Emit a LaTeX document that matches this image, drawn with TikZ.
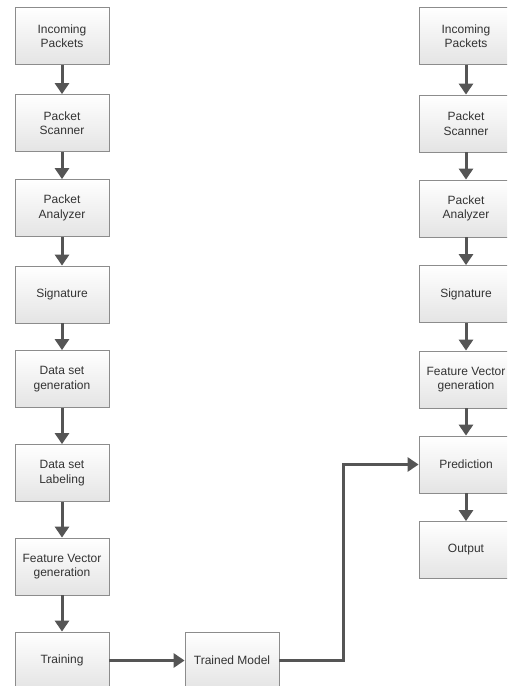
\documentclass[tikz,border=0pt]{standalone}
\usepackage{fontspec}
\setmainfont{Liberation Sans}
\usetikzlibrary{arrows.meta}
\definecolor{boxline}{HTML}{8C8C8C}
\definecolor{boxfill}{HTML}{E4E4E4}
\definecolor{txtgray}{HTML}{333333}
\definecolor{flowgray}{HTML}{555555}
\begin{document}
\begin{tikzpicture}[x=1pt,y=-1pt,>={Triangle[length=11pt,width=14pt]},
        blk/.style={draw=boxline,line width=0.8pt,top color=white,bottom color=boxfill,
            minimum width=94pt,minimum height=57pt,inner sep=1pt,align=center,
            text=txtgray,font=\fontsize{12}{14.5}\selectfont},
        flow/.style={->,draw=flowgray,line width=3pt}]
                \def\lx{62} \def\rx{466}
                \clip (0,0) rectangle (507,686);
                %===========================================
                \node[blk] (a1) at (\lx,36) {Incoming\\Packets};
                \node[blk] (a2) at (\lx,123) {Packet\\Scanner};
                \node[blk] (a3) at (\lx,208) {Packet\\Analyzer};
                \node[blk] (a4) at (\lx,294.5) {Signature};
                \node[blk] (a5) at (\lx,379) {Data set\\generation};
                \node[blk] (a6) at (\lx,473) {Data set\\Labeling};
                \node[blk] (a7) at (\lx,566.5) {Feature Vector\\generation};
                \node[blk] (a8) at (\lx,660.5) {Training};
                \node[blk] (tm) at (232,660.5) {Trained Model};
                %===========================================
                \node[blk] (b1) at (\rx,36) {Incoming\\Packets};
                \node[blk] (b2) at (\rx,123.5) {Packet\\Scanner};
                \node[blk] (b3) at (\rx,208.5) {Packet\\Analyzer};
                \node[blk] (b4) at (\rx,294) {Signature};
                \node[blk] (b5) at (\rx,379.5) {Feature Vector\\generation};
                \node[blk] (b6) at (\rx,464.5) {Prediction};
                \node[blk] (b7) at (\rx,550) {Output};
                %===========================================
                \foreach \u/\v in {a1/a2,a2/a3,a3/a4,a4/a5,a5/a6,a6/a7,a7/a8,
                        b1/b2,b2/b3,b3/b4,b4/b5,b5/b6,b6/b7}
                    \draw[flow] (\u.south)--(\v.north);
                \draw[flow] (a8.east)--(tm.west);
                \coordinate (turn) at (343,0);
                \draw[flow] (tm.east) -| (turn |- b6.west) -- (b6.west);
            \end{tikzpicture}
\end{document}
